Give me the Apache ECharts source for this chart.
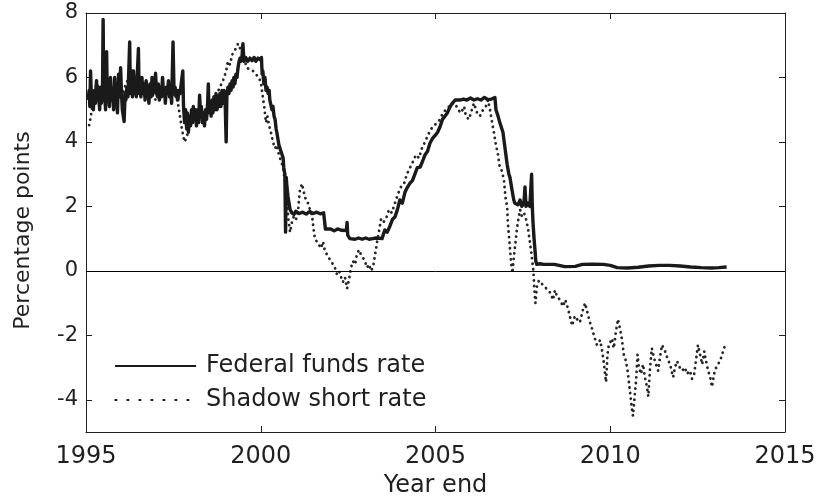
<!DOCTYPE html>
<html>
<head>
<meta charset="utf-8">
<script src="https://cdn.jsdelivr.net/npm/echarts@6/dist/echarts.min.js"></script>
<style>html,body{margin:0;padding:0;background:#fff;}#c{width:820px;height:500px;}</style>
</head>
<body>
<div id="c"></div>
<script>
// ---- Data ----
var xTicks = [1995, 2000, 2005, 2010, 2015];
var yTickLabels = [-4, -2, 0, 2, 4, 6, 8];

var ffrYears = [
1995.06,1995.09,1995.11,1995.13,1995.16,1995.19,1995.21,1995.24,1995.27,1995.30,1995.33,1995.36,1995.39,1995.41,1995.44,1995.47,1995.49,1995.51,1995.53,1995.56,
1995.59,1995.61,1995.64,1995.67,1995.70,1995.73,1995.76,1995.79,1995.82,1995.84,1995.87,1995.90,1995.93,1995.96,1995.99,1996.02,1996.04,1996.09,1996.12,1996.14,
1996.17,1996.20,1996.25,1996.27,1996.30,1996.33,1996.36,1996.39,1996.42,1996.44,1996.50,1996.52,1996.55,1996.57,1996.60,1996.63,1996.66,1996.69,1996.72,1996.75,
1996.77,1996.80,1996.83,1996.86,1996.89,1996.92,1996.95,1996.99,1997.02,1997.05,1997.07,1997.10,1997.13,1997.16,1997.19,1997.22,1997.25,1997.27,1997.30,1997.33,
1997.36,1997.39,1997.42,1997.45,1997.49,1997.52,1997.55,1997.58,1997.60,1997.63,1997.66,1997.69,1997.72,1997.77,1997.79,1997.82,1997.85,1997.88,1997.90,1997.93,
1997.96,1997.99,1998.02,1998.05,1998.07,1998.10,1998.13,1998.16,1998.19,1998.22,1998.25,1998.28,1998.30,1998.33,1998.36,1998.39,1998.42,1998.45,1998.48,1998.50,
1998.52,1998.55,1998.58,1998.61,1998.63,1998.66,1998.69,1998.72,1998.75,1998.78,1998.80,1998.83,1998.86,1998.89,1998.92,1998.95,1998.98,1999.01,1999.03,1999.06,
1999.09,1999.12,1999.15,1999.18,1999.21,1999.23,1999.26,1999.29,1999.32,1999.35,1999.38,1999.41,1999.43,1999.46,1999.49,1999.52,1999.57,1999.63,1999.69,1999.75,
1999.81,1999.86,1999.92,1999.98,2000.02,2000.04,2000.06,2000.09,2000.12,2000.15,2000.18,2000.21,2000.24,2000.26,2000.29,2000.32,2000.35,2000.38,2000.41,2000.44,
2000.46,2000.49,2000.52,2000.55,2000.58,2000.61,2000.64,2000.66,2000.69,2000.71,2000.73,2000.75,2000.78,2000.81,2000.84,2000.89,2000.95,2001.00,2001.10,2001.20,
2001.30,2001.40,2001.50,2001.60,2001.70,2001.80,2001.84,2001.85,2001.90,2002.00,2002.10,2002.20,2002.30,2002.45,2002.47,2002.49,2002.55,2002.60,2002.70,2002.80,
2002.90,2003.00,2003.10,2003.20,2003.30,2003.47,2003.55,2003.62,2003.70,2003.77,2003.84,2003.91,2003.98,2004.05,2004.13,2004.20,2004.27,2004.34,2004.41,2004.48,
2004.56,2004.63,2004.70,2004.77,2004.84,2004.91,2004.99,2005.06,2005.13,2005.20,2005.27,2005.34,2005.41,2005.48,2005.56,2005.60,2005.70,2005.80,2005.90,2006.00,
2006.10,2006.20,2006.30,2006.40,2006.50,2006.60,2006.70,2006.73,2006.79,2006.84,2006.90,2006.93,2006.99,2007.05,2007.10,2007.13,2007.19,2007.24,2007.27,2007.36,
2007.42,2007.47,2007.53,2007.56,2007.59,2007.65,2007.70,2007.75,2007.77,2007.79,2007.82,2007.85,2007.87,2007.90,2007.99,2008.10,2008.40,2008.70,2009.00,2009.20,
2009.50,2009.80,2010.00,2010.20,2010.50,2010.80,2011.10,2011.40,2011.70,2012.00,2012.30,2012.60,2012.90,2013.10,2013.33
];
var ffrRates = [
5.3,5.6,5.1,6.2,5.2,5.5,5.0,5.6,5.2,5.9,5.3,5.5,5.0,5.7,5.2,5.4,7.8,5.3,5.6,5.0,
6.8,5.3,5.5,5.1,6.0,5.3,5.6,5.0,6.0,5.3,5.5,4.9,6.1,5.4,6.3,5.4,5.0,4.63,5.5,5.3,
5.7,5.4,7.1,5.5,5.8,5.4,6.2,5.5,5.9,5.4,6.9,5.5,5.8,5.4,6.0,5.5,5.8,5.3,5.9,5.5,
5.7,5.2,5.8,5.4,6.0,5.5,5.6,6.13,5.5,5.4,5.8,5.3,5.7,5.4,6.0,5.5,5.6,5.2,5.7,5.5,
5.9,5.4,5.6,5.2,7.1,5.5,5.7,5.4,5.6,5.3,5.6,5.5,5.5,6.2,5.1,4.6,5.0,4.4,4.9,4.3,
4.8,4.5,5.0,4.6,5.1,4.7,5.0,4.5,5.0,4.6,5.45,4.8,5.1,4.6,4.9,4.5,5.0,4.7,5.2,5.8,
4.9,5.2,4.8,5.3,4.9,5.4,5.0,5.5,5.0,5.4,5.1,5.5,5.1,5.6,5.2,5.6,5.3,4.0,5.4,5.7,
5.5,5.8,5.6,5.9,5.7,6.0,5.8,6.1,6.0,6.3,6.5,6.6,6.5,6.6,7.05,6.5,6.62,6.5,6.6,6.52,
6.62,6.5,6.6,6.55,6.62,6.1,6.2,5.8,6.0,5.6,5.7,5.5,5.6,5.3,5.3,5.0,5.1,4.8,4.7,4.4,
4.3,4.1,3.9,3.85,3.7,3.6,3.5,3.2,3.0,1.2,2.9,2.6,2.3,2.1,1.9,1.8,1.75,1.85,1.78,1.82,
1.76,1.84,1.78,1.82,1.77,1.8,1.8,1.3,1.25,1.3,1.24,1.3,1.26,1.25,1.5,1.1,1.0,1.02,0.98,1.02,
0.98,1.02,0.98,1.0,1.02,1.0,1.27,1.2,1.4,1.6,1.67,1.9,2.2,2.1,2.45,2.6,2.72,2.8,3.0,3.2,
3.22,3.4,3.6,3.7,3.96,4.1,4.2,4.3,4.47,4.7,4.8,4.9,5.08,5.2,5.3,5.35,5.3,5.33,5.3,5.36,
5.3,5.34,5.3,5.38,5.31,5.33,5.38,5.0,4.8,4.6,4.4,4.3,3.8,3.3,3.0,2.9,2.5,2.2,2.1,2.05,
2.2,2.0,2.1,2.6,2.0,2.1,2.0,3.0,2.0,1.5,1.0,0.6,0.3,0.2,0.22,0.2,0.2,0.13,0.14,0.2,
0.21,0.2,0.17,0.1,0.09,0.11,0.15,0.17,0.17,0.15,0.12,0.1,0.09,0.1,0.12
];

var ssrYears = [
1995.09,1995.14,1995.20,1995.26,1995.31,1995.37,1995.46,1995.54,1995.63,1995.72,1995.80,1995.89,1995.97,1996.06,1996.14,1996.23,1996.29,1996.37,1996.46,1996.55,
1996.63,1996.72,1996.80,1996.89,1996.97,1997.06,1997.15,1997.23,1997.32,1997.40,1997.49,1997.58,1997.63,1997.69,1997.73,1997.78,1997.82,1997.86,1997.92,1997.98,
1998.06,1998.15,1998.23,1998.32,1998.40,1998.49,1998.58,1998.66,1998.75,1998.83,1998.92,1999.01,1999.06,1999.12,1999.18,1999.23,1999.29,1999.35,1999.41,1999.46,
1999.52,1999.60,1999.69,1999.78,1999.86,1999.95,2000.01,2000.06,2000.11,2000.15,2000.19,2000.24,2000.29,2000.35,2000.41,2000.46,2000.52,2000.58,2000.64,2000.69,
2000.75,2000.79,2000.84,2000.89,2000.95,2001.01,2001.07,2001.12,2001.18,2001.24,2001.29,2001.35,2001.41,2001.47,2001.51,2001.55,2001.61,2001.67,2001.72,2001.78,
2001.84,2001.90,2001.95,2002.01,2002.07,2002.12,2002.18,2002.24,2002.30,2002.35,2002.41,2002.47,2002.52,2002.58,2002.64,2002.70,2002.75,2002.81,2002.87,2002.93,
2002.98,2003.04,2003.10,2003.15,2003.21,2003.27,2003.33,2003.38,2003.44,2003.50,2003.58,2003.67,2003.75,2003.84,2003.93,2004.01,2004.10,2004.18,2004.27,2004.36,
2004.44,2004.53,2004.61,2004.70,2004.78,2004.87,2004.96,2005.04,2005.13,2005.21,2005.30,2005.39,2005.47,2005.56,2005.64,2005.73,2005.82,2005.87,2005.96,2006.04,
2006.10,2006.19,2006.27,2006.36,2006.44,2006.50,2006.56,2006.62,2006.67,2006.73,2006.79,2006.84,2006.90,2006.96,2007.00,2007.05,2007.07,2007.10,2007.13,2007.16,
2007.20,2007.24,2007.29,2007.33,2007.37,2007.42,2007.47,2007.53,2007.59,2007.65,2007.70,2007.76,2007.80,2007.83,2007.86,2007.90,2007.96,2008.04,2008.13,2008.22,
2008.30,2008.36,2008.42,2008.48,2008.56,2008.65,2008.71,2008.76,2008.82,2008.91,2008.99,2009.05,2009.13,2009.22,2009.28,2009.37,2009.42,2009.48,2009.56,2009.62,
2009.71,2009.77,2009.81,2009.85,2009.88,2009.92,2009.96,2010.05,2010.10,2010.16,2010.22,2010.28,2010.33,2010.39,2010.45,2010.51,2010.56,2010.61,2010.65,2010.69,
2010.74,2010.78,2010.82,2010.88,2010.94,2010.99,2011.05,2011.09,2011.14,2011.19,2011.25,2011.31,2011.37,2011.42,2011.48,2011.57,2011.63,2011.71,2011.80,2011.85,
2011.91,2011.99,2012.05,2012.14,2012.19,2012.28,2012.34,2012.40,2012.45,2012.51,2012.57,2012.63,2012.69,2012.74,2012.80,2012.86,2012.91,2012.97,2013.03,2013.08,
2013.14,2013.20,2013.26,2013.30
];
var ssrRates = [
4.52,4.8,5.3,5.6,5.9,5.5,5.4,5.6,5.3,5.5,5.4,5.6,5.8,5.5,5.8,6.0,6.3,5.8,5.6,5.7,
5.5,5.6,5.4,5.5,5.3,5.4,5.5,5.4,5.5,5.4,5.5,5.4,5.2,4.8,4.5,4.2,4.0,4.1,4.3,4.6,
4.8,4.9,4.7,5.0,4.8,5.1,5.3,5.2,5.5,5.7,5.9,6.2,6.5,6.4,6.7,6.8,6.9,7.05,6.9,6.8,
6.6,6.3,6.25,6.2,6.1,6.0,5.8,5.4,5.0,4.6,4.8,4.5,4.3,4.0,3.8,3.9,3.6,3.4,3.2,2.8,
2.2,1.6,1.2,1.5,1.7,1.6,1.9,2.5,2.7,2.4,2.2,2.1,1.9,1.7,1.3,1.0,0.9,0.8,0.7,0.9,
0.6,0.5,0.4,0.3,0.2,0.1,-0.1,0.0,-0.2,-0.35,-0.2,-0.55,-0.3,0.1,0.3,0.2,0.5,0.65,0.5,0.4,
0.3,0.1,0.2,0.0,0.1,0.5,0.9,1.2,1.6,1.5,1.6,1.9,1.8,2.1,2.4,2.6,2.7,3.0,3.2,3.4,
3.6,3.5,3.8,4.0,4.2,4.4,4.5,4.6,4.7,4.9,5.0,5.1,5.2,5.2,5.0,4.9,5.1,4.8,4.7,5.0,
5.2,4.9,4.8,5.0,5.1,5.3,5.0,4.6,4.3,3.9,3.6,3.2,3.1,2.8,2.3,2.0,1.5,1.1,0.7,0.3,
-0.07,0.4,0.9,1.3,1.6,1.9,1.7,1.8,1.6,1.3,0.9,0.4,0.0,-0.6,-1.0,-0.5,-0.3,-0.4,-0.5,-0.6,
-0.7,-0.9,-0.6,-0.8,-0.9,-1.1,-0.9,-1.05,-1.3,-1.7,-1.4,-1.5,-1.6,-1.2,-1.0,-1.4,-1.6,-1.8,-2.1,-2.3,
-2.15,-2.5,-2.8,-3.2,-3.45,-2.6,-2.3,-2.1,-2.4,-1.9,-1.5,-1.8,-2.1,-2.6,-2.8,-3.2,-3.7,-4.2,-4.5,-4.0,
-3.4,-2.6,-3.0,-3.2,-2.9,-3.3,-3.6,-3.9,-3.0,-2.4,-2.7,-2.9,-3.1,-2.7,-2.3,-2.5,-2.7,-2.9,-3.3,-3.0,
-2.8,-3.0,-3.1,-3.0,-3.2,-3.1,-3.35,-3.2,-2.8,-2.3,-2.6,-2.9,-2.5,-2.8,-3.1,-3.3,-3.6,-3.2,-3.0,-2.9,
-2.8,-2.6,-2.4,-2.25
];

function zip(xs, ys) {
  var out = [];
  for (var i = 0; i < xs.length && i < ys.length; i++) out.push([xs[i], ys[i]]);
  return out;
}

var FONT = 'DejaVu Sans';
var INK = '#1f1f1f';

var chart = echarts.init(document.getElementById('c'), null, {renderer: 'canvas'});
chart.setOption({
  animation: false,
  backgroundColor: '#fff',
  grid: {left: 86, right: 35, top: 13, bottom: 68, containLabel: false, outerBoundsMode: 'none'},
  legend: {
    orient: 'vertical',
    left: 114,
    top: 354,
    padding: 0,
    itemWidth: 81,
    itemHeight: 14,
    itemGap: 10,
    itemStyle: {opacity: 0},
    textStyle: {fontFamily: FONT, fontSize: 24, color: INK, lineHeight: 24, padding: [0, 0, 0, 5]},
    data: [
      {name: 'Federal funds rate', lineStyle: {width: 2.2}},
      {name: 'Shadow short rate', lineStyle: {type: [1.5, 10.5], width: 1.8, cap: 'round'}}
    ]
  },
  xAxis: [
    {
      type: 'value', position: 'bottom', min: xTicks[0], max: xTicks[xTicks.length - 1], interval: 5,
      name: 'Year end', nameLocation: 'middle', nameGap: 38,
      nameTextStyle: {fontFamily: FONT, fontSize: 24, color: INK},
      axisLine: {show: true, onZero: false, lineStyle: {color: INK, width: 1}},
      axisTick: {show: true, inside: true, length: 6, lineStyle: {color: INK}},
      axisLabel: {fontFamily: FONT, fontSize: 24, color: INK, margin: 13, formatter: function (v) { return String(v); }},
      splitLine: {show: false}
    },
    {
      type: 'value', position: 'top', min: xTicks[0], max: xTicks[xTicks.length - 1], interval: 5,
      axisLine: {show: true, onZero: false, lineStyle: {color: INK, width: 1}},
      axisTick: {show: true, inside: true, length: 6, lineStyle: {color: INK}},
      axisLabel: {show: false},
      splitLine: {show: false}
    }
  ],
  yAxis: [
    {
      type: 'value', position: 'left', min: -5, max: 8, interval: 1,
      name: 'Percentage points', nameLocation: 'middle', nameGap: 52,
      nameTextStyle: {fontFamily: FONT, fontSize: 22, color: INK, padding: [0, 16, 0, 0]},
      axisLine: {show: true, onZero: false, lineStyle: {color: INK, width: 1}},
      axisTick: {show: true, inside: true, length: 6, customValues: yTickLabels, lineStyle: {color: INK}},
      axisLabel: {fontFamily: FONT, fontSize: 21, color: INK, margin: 8, customValues: yTickLabels},
      splitLine: {show: false}
    },
    {
      type: 'value', position: 'right', min: -5, max: 8, interval: 1,
      axisLine: {show: true, onZero: false, lineStyle: {color: INK, width: 1}},
      axisTick: {show: true, inside: true, length: 6, customValues: yTickLabels, lineStyle: {color: INK}},
      axisLabel: {show: false},
      splitLine: {show: false}
    }
  ],
  series: [
    {
      name: 'Shadow short rate',
      type: 'line',
      xAxisIndex: 0, yAxisIndex: 0,
      symbol: 'none',
      data: zip(ssrYears, ssrRates),
      lineStyle: {color: '#262626', width: 2.8, type: [0.1, 5.5], cap: 'round'},
      itemStyle: {color: '#262626'},
      z: 2
    },
    {
      name: 'Federal funds rate',
      type: 'line',
      xAxisIndex: 0, yAxisIndex: 0,
      symbol: 'none',
      data: zip(ffrYears, ffrRates),
      lineStyle: {color: '#1a1a1a', width: 3.4, join: 'round'},
      itemStyle: {color: '#1a1a1a'},
      z: 3,
      markLine: {
        silent: true,
        symbol: ['none', 'none'],
        label: {show: false},
        lineStyle: {color: '#000', width: 1, type: 'solid'},
        data: [{yAxis: 0}]
      }
    }
  ]
});
</script>
</body>
</html>
